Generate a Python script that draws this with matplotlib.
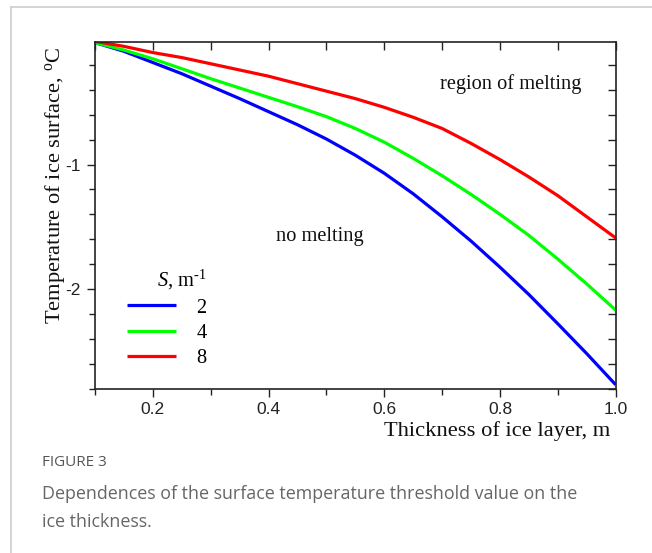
import matplotlib
matplotlib.use('Agg')
import matplotlib.pyplot as plt
from matplotlib.lines import Line2D
from matplotlib.ticker import MultipleLocator

# thickness of ice layer, m
thickness = [0.10, 0.15, 0.20, 0.25, 0.30, 0.35, 0.40, 0.45, 0.50, 0.55,
             0.60, 0.65, 0.70, 0.75, 0.80, 0.85, 0.90, 0.95, 1.00]
# threshold surface temperature, C, for S = 2, 4, 8 1/m
temp_s2 = [-0.02, -0.09, -0.18, -0.27, -0.37, -0.47, -0.575, -0.68, -0.795, -0.925,
           -1.07, -1.235, -1.42, -1.615, -1.825, -2.045, -2.28, -2.52, -2.77]
temp_s4 = [-0.02, -0.08, -0.15, -0.23, -0.31, -0.385, -0.46, -0.535, -0.615, -0.71,
           -0.82, -0.95, -1.09, -1.24, -1.40, -1.57, -1.76, -1.96, -2.17]
temp_s8 = [-0.01, -0.05, -0.10, -0.14, -0.19, -0.24, -0.29, -0.35, -0.41, -0.47,
           -0.54, -0.62, -0.71, -0.83, -0.96, -1.10, -1.25, -1.42, -1.59]
s_labels = ['2', '4', '8']
colors = ['#0000ff', '#00ff00', '#ff0000']

serif = 'Liberation Serif'
plt.rcParams['mathtext.fontset'] = 'custom'
plt.rcParams['mathtext.rm'] = serif
plt.rcParams['mathtext.it'] = serif + ':italic'

W, H = 652, 553
fig = plt.figure(figsize=(W / 100, H / 100), dpi=100)
ax = fig.add_axes([95 / W, 1 - 388.5 / H, (615.7 - 95) / W, (388.5 - 42) / H])

for y, c, lab in zip([temp_s2, temp_s4, temp_s8], colors, s_labels):
    ax.plot(thickness, y, color=c, lw=2.3, label=lab, solid_capstyle='butt')

ax.set_xlim(0.1, 1.0)
ax.set_ylim(-2.8, -0.015)

# ticks: outward on left/bottom, inward on top/right
ax.xaxis.set_minor_locator(MultipleLocator(0.1))
ax.yaxis.set_minor_locator(MultipleLocator(0.2))
ax.set_xticks([0.2, 0.4, 0.6, 0.8, 1.0])
ax.set_xticklabels(['0.2', '0.4', '0.6', '0.8', '1.0'])
ax.set_yticks([-1, -2])
ax.set_yticklabels(['-1', '-2'])
ax.tick_params(which='both', direction='out', top=False, right=False,
               labelsize=12.5, colors='#222222', width=1.0,
               labelfontfamily='Liberation Sans')
ax.tick_params(which='major', length=6, pad=4)
ax.tick_params(which='minor', length=4)

# mirrored inward ticks on top and right
axt = ax.secondary_xaxis('top')
axt.xaxis.set_major_locator(MultipleLocator(0.1))
axt.tick_params(direction='in', length=6, width=1.0, labeltop=False, colors='#222222')
axr = ax.secondary_yaxis('right')
axr.yaxis.set_major_locator(MultipleLocator(0.2))
axr.tick_params(direction='in', length=6, width=1.0, labelright=False, colors='#222222')
for a in (axt, axr):
    for sp in a.spines.values():
        sp.set_visible(False)

for sp in ax.spines.values():
    sp.set_linewidth(1.2)
    sp.set_color('#222222')

ax.text(0.819, -0.356, 'region of melting', fontsize=14.7, family=serif,
        ha='center', va='center', color='#111111')
ax.text(0.489, -1.575, 'no melting', fontsize=14.7, family=serif,
        ha='center', va='center', color='#111111')

leg = ax.legend(title=r'$S$, m$^{\text{-1}}$', loc='upper left',
                bbox_to_anchor=(123 / W, 1 - 264 / H), bbox_transform=fig.transFigure,
                frameon=False, prop={'family': serif, 'size': 14.7},
                handlelength=2.4, handletextpad=1.0, labelspacing=0.3,
                alignment='right', borderaxespad=0, borderpad=0.2)
leg.get_title().set_fontfamily(serif)
leg.get_title().set_fontsize(14.7)

fig.text(55 / W, 1 - 185 / H, r'Temperature of ice surface, $^{\rm o}$C',
         rotation=90, ha='center', va='center', family=serif, fontsize=16.2,
         color='#111111')
fig.text(497 / W, 1 - 431 / H, 'Thickness of ice layer, m', ha='center',
         va='center', family=serif, fontsize=16.2, color='#111111')

# caption
fig.text(42 / W, 1 - 462 / H, 'FIGURE 3', ha='left', va='center',
         family='Open Sans', fontsize=11, color='#555555')
fig.text(42 / W, 1 - 494 / H,
         'Dependences of the surface temperature threshold value on the',
         ha='left', va='center', family='Open Sans', fontsize=12.9, color='#666666')
fig.text(42 / W, 1 - 522 / H, 'ice thickness.', ha='left', va='center',
         family='Open Sans', fontsize=12.9, color='#666666')

# card border lines (top and left)
fig.add_artist(Line2D([11 / W, 1], [1 - 7 / H, 1 - 7 / H], color='#cccccc', lw=1.2))
fig.add_artist(Line2D([11 / W, 11 / W], [0, 1 - 7 / H], color='#cccccc', lw=1.2))

fig.savefig('out.png', dpi=100)
